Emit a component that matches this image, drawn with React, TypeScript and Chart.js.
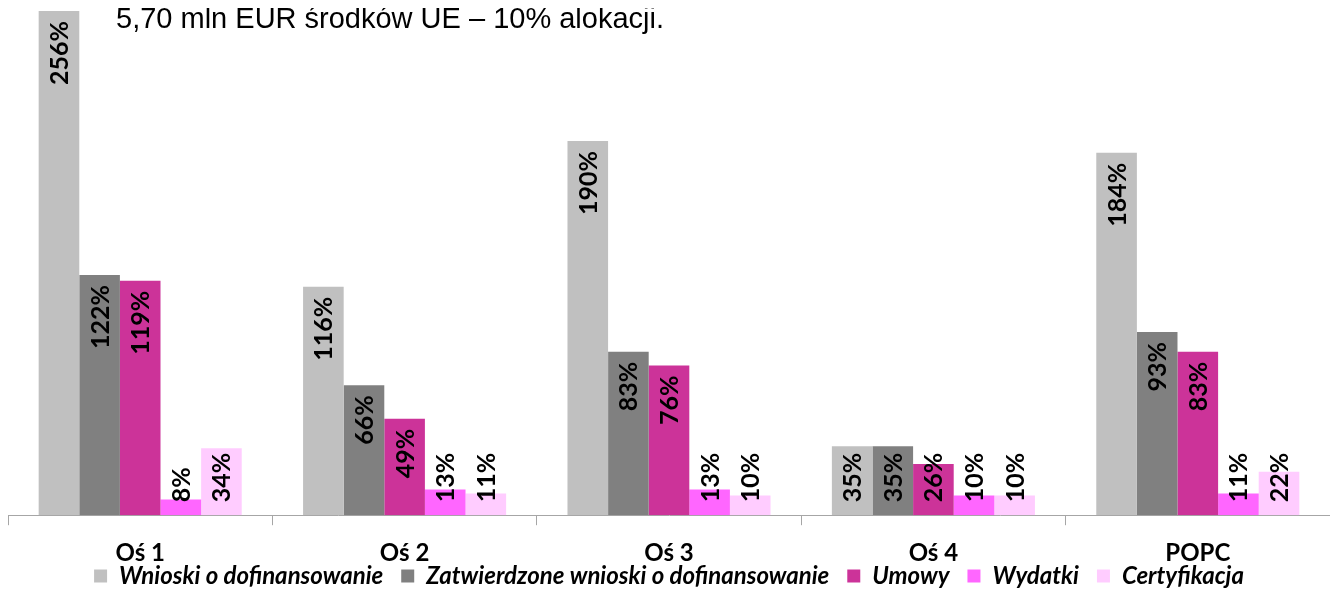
import React, { useEffect, useRef } from "react";
import { Chart, registerables } from "chart.js";

Chart.register(...registerables);

const categories = ["Oś 1", "Oś 2", "Oś 3", "Oś 4", "POPC"];
const wnioski = [256, 116, 190, 35, 184];
const zatwierdzone = [122, 66, 83, 35, 93];
const umowy = [119, 49, 76, 26, 83];
const wydatki = [8, 13, 13, 10, 11];
const certyfikacja = [34, 11, 10, 10, 22];
const seriesNames = [
  "Wnioski o dofinansowanie",
  "Zatwierdzone wnioski o dofinansowanie",
  "Umowy",
  "Wydatki",
  "Certyfikacja",
];
const seriesColors = ["#c0c0c0", "#808080", "#cc3399", "#ff66ff", "#ffccff"];
const headerText = "5,70 mln EUR środków UE – 10% alokacji.";

const labelPlugin = {
  id: "barValueLabels",
  afterLayout(chart: any) {
    const x = chart.scales.x;
    if (x) x.bottom += 40;
  },
  afterDatasetsDraw(chart: any) {
    const ctx = chart.ctx;
    ctx.save();
    ctx.font = "bold 25px Lato";
    ctx.fillStyle = "#000000";
    ctx.textBaseline = "middle";
    ctx.textAlign = "left";
    chart.data.datasets.forEach((ds: any, di: number) => {
      const meta = chart.getDatasetMeta(di);
      meta.data.forEach((el: any, i: number) => {
        const txt = ds.data[i] + "%";
        const w = ctx.measureText(txt).width;
        const bottom = Math.min(el.y + 10 + w, el.base - 13);
        ctx.save();
        ctx.translate(el.x, bottom);
        ctx.rotate(-Math.PI / 2);
        ctx.fillText(txt, 0, 1);
        ctx.restore();
      });
    });
    ctx.restore();
  },
};

export default function App() {
  const ref = useRef<HTMLCanvasElement>(null);
  useEffect(() => {
    if (!ref.current) return;
    const data = [wnioski, zatwierdzone, umowy, wydatki, certyfikacja];
    const chart = new Chart(ref.current, {
      type: "bar",
      data: {
        labels: categories,
        datasets: data.map((d, i) => ({
          label: seriesNames[i],
          data: d,
          backgroundColor: seriesColors[i],
          borderWidth: 0,
          categoryPercentage: 0.768,
          barPercentage: 1,
        })),
      },
      options: {
        animation: false,
        responsive: true,
        maintainAspectRatio: false,
        layout: { padding: 0 },
        plugins: {
          tooltip: { enabled: false },
          legend: {
            position: "bottom",
            labels: {
              color: "#000000",
              font: { family: "Lato", size: 24, style: "italic", weight: "bold" },
              boxWidth: 13,
              boxHeight: 13,
              padding: 18,
            },
          },
        },
        scales: {
          x: {
            grid: {
              display: true,
              drawOnChartArea: false,
              drawTicks: true,
              tickLength: 10,
              color: "#a6a6a6",
              offset: true,
            },
            border: { display: true, color: "#a6a6a6", width: 1 },
            ticks: {
              color: "#000000",
              padding: 14,
              font: { family: "Lato", size: 24, weight: "bold" },
            },
            afterFit: (s: any) => {
              s.height -= 36;
            },
          },
          y: {
            display: false,
            min: 0,
            max: 257.5,
          },
        },
      },
      plugins: [labelPlugin],
    });
    return () => chart.destroy();
  }, []);

  return (
    <div style={{ position: "relative", width: "100%", height: 590 }}>
      <canvas ref={ref} />
      <div
        style={{
          position: "absolute",
          left: 108,
          top: -6,
          fontFamily: "'Liberation Sans', Arial, sans-serif",
          fontSize: 29,
          whiteSpace: "nowrap",
          color: "#000",
          pointerEvents: "none",
        }}
      >
        {headerText}
      </div>
    </div>
  );
}
